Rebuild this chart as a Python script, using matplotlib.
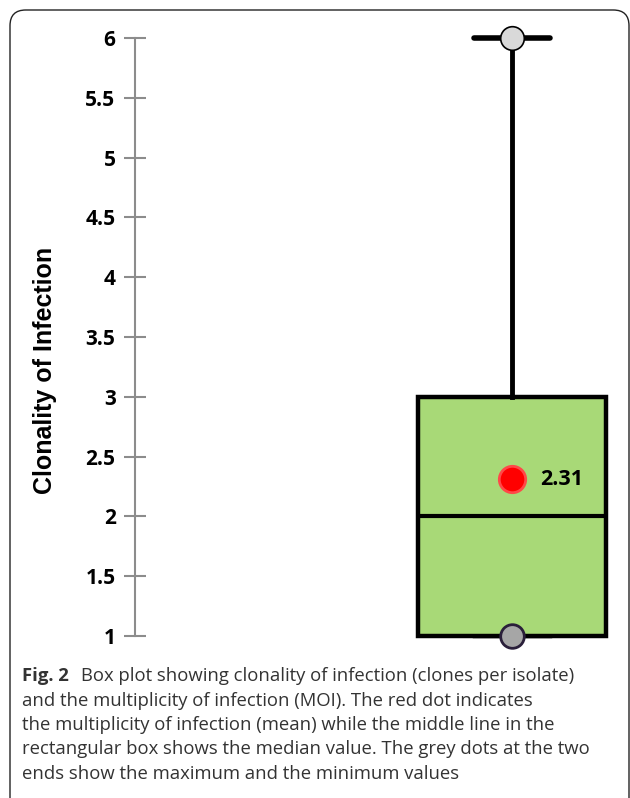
import matplotlib.pyplot as plt
from matplotlib.patches import FancyBboxPatch

# box plot summary values
stat_min = 1
stat_q1 = 1
stat_median = 2
stat_q3 = 3
stat_max = 6
stat_mean = 2.31
y_ticks = [1, 1.5, 2, 2.5, 3, 3.5, 4, 4.5, 5, 5.5, 6]
y_ticklabels = ['1', '1.5', '2', '2.5', '3', '3.5', '4', '4.5', '5', '5.5', '6']

W, H = 630, 798
fig = plt.figure(figsize=(W / 100, H / 100), dpi=100)

# rounded frame around the figure
frame = FancyBboxPatch((10 / W, -0.05), (629 - 10) / W, 1.05 - 10 / H,
                       boxstyle='round,pad=0,rounding_size=0.025',
                       transform=fig.transFigure, fill=False,
                       edgecolor='#222222', lw=1.0, mutation_aspect=W / H)
fig.patches.append(frame)

ax = fig.add_axes([135 / W, (H - 636) / H, (W - 135) / W, (636 - 38) / H])
ax.set_xlim(-0.604, 1.502)
ax.set_ylim(1, 6)

stats = [{'whislo': stat_min, 'q1': stat_q1, 'med': stat_median,
          'q3': stat_q3, 'whishi': stat_max, 'mean': stat_mean}]
bp = ax.bxp(stats, positions=[1], widths=0.8, patch_artist=True,
            showfliers=False, showmeans=False,
            boxprops=dict(facecolor='#a8d977', edgecolor='black', linewidth=3.2),
            medianprops=dict(color='black', linewidth=3),
            whiskerprops=dict(color='black', linewidth=3.5),
            capwidths=0.32)
for key in bp:
    for art in bp[key]:
        art.set_clip_on(False)
# lower cap sits on the box edge, upper cap is thick and rounded
bp['caps'][0].set_color('black')
bp['caps'][0].set_linewidth(2.5)
bp['caps'][1].set_color('black')
bp['caps'][1].set_linewidth(4)
bp['caps'][1].set_solid_capstyle('round')

# max / min markers
ax.plot([1], [stat_max], 'o', ms=17, mfc='#d9d9d9', mec='black', mew=1.2,
        clip_on=False, zorder=5)
ax.plot([1], [stat_min], 'o', ms=17, mfc='#a6a6a6', mec='#2a1f3a', mew=2,
        clip_on=False, zorder=5)
# mean marker
ax.plot([1], [stat_mean], 'o', ms=19, mfc='red', mec='#ff4848', mew=2,
        zorder=5)
ax.text(1.12, stat_mean, f'{stat_mean:.2f}', fontsize=15.5, fontweight='bold',
        family='Open Sans', va='center', ha='left')

for s in ['top', 'right', 'bottom']:
    ax.spines[s].set_visible(False)
ax.spines['left'].set_color('#8c8c8c')
ax.spines['left'].set_linewidth(1.5)
ax.set_xticks([])
ax.set_yticks(y_ticks)
ax.set_yticklabels(y_ticklabels, fontsize=15, fontweight='bold',
                   family='Open Sans')
ax.tick_params(axis='y', direction='inout', length=16, width=1.5,
               color='#8c8c8c', pad=6)

fig.text(45 / W, 1 - 370 / H, 'Clonality of Infection', rotation=90,
         fontsize=18, fontweight='bold', family='Liberation Sans',
         ha='center', va='center')

# caption
cap_font = dict(family='Open Sans', fontsize=13.3, color='#333333')
t1 = fig.text(22 / W, 1 - 681 / H, 'Fig. 2', fontweight='bold',
              va='baseline', **cap_font)
plt.annotate('Box plot showing clonality of infection (clones per isolate)',
             xy=(1, 0), xycoords=t1, xytext=(9, 0), textcoords='offset points',
             va='bottom', **cap_font)
caption_lines = [
    'and the multiplicity of infection (MOI). The red dot indicates',
    'the multiplicity of infection (mean) while the middle line in the',
    'rectangular box shows the median value. The grey dots at the two',
    'ends show the maximum and the minimum values',
]
for i, line in enumerate(caption_lines):
    fig.text(22 / W, 1 - (681 + 24.5 * (i + 1)) / H, line, va='baseline',
             **cap_font)

fig.savefig('out.png', dpi=100)
